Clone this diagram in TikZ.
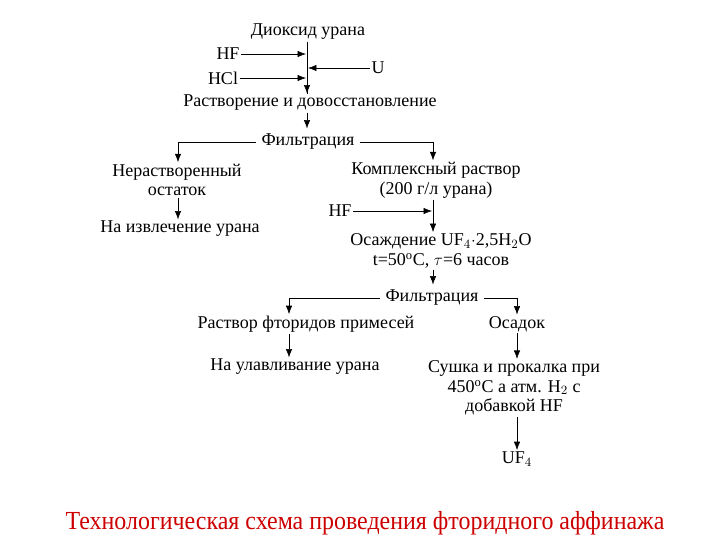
\documentclass[tikz,border=0pt]{standalone}
\usepackage{fontspec}
\setmainfont{Liberation Serif}
\usetikzlibrary{arrows.meta,calc}

\begin{document}
\begin{tikzpicture}[>={Latex[length=6pt,width=4.5pt]},x=0.025cm,y=-0.025cm,
    txt/.style={inner sep=1pt,font=\fontsize{12.8}{14}\selectfont,align=center},
    flow/.style={->,thin}]
  \useasboundingbox (0,0) rectangle (720,540);

  % first stage
  \node[txt] (dio) at (308,32) {Диоксид урана};
  \node[txt] (hf1) at (228,54) {HF};
  \node[txt] (hcl) at (223,78) {HCl};
  \node[txt] (u) at (378,68) {U};
  \node[txt] (rast) at (310,103) {Растворение и довосстановление};
  \draw[thin] (dio.south -| 307,0) -- (rast.north -| 307,0);
  \draw[flow] (hf1) -- (hf1 -| 306,0);
  \draw[flow] (hcl) -- (hcl -| 306,0);
  \draw[flow] (u) -- (u -| 308,0);
  \draw[flow] (dio.south -| 307,0) -- (rast.north -| 307,0);

  \node[txt,outer sep=3pt] (filt1) at (308,142) {Фильтрация};
  \draw[flow] (rast.south -| 307,0) -- (filt1.north -| 307,0);

  % left branch
  \node[txt] (ost) at (177,180) {Нерастворенный\\остаток};
  \node[txt] (izv) at (180,229) {На извлечение урана};
  \draw[flow] (filt1.west) -| (ost.north -| 178,0);
  \draw[flow] (ost.south -| 178,0) -- (izv.north -| 178,0);

  % right branch
  \node[txt] (kompl) at (436,180) {Комплексный раствор\\(200 г/л урана)};
  \node[txt] (hf2) at (340,211) {HF};
  \node[txt] (osazh) at (441,251) {Осаждение UF$_4$$\cdot$2,5H$_2$O\\t=50$^{\mathrm{o}}$C, $\tau$=6 часов};
  \draw[flow] (filt1.east) -| (kompl.north -| 433,0);
  \draw[flow] (kompl.south -| 433,0) -- (osazh.north -| 433,0);
  \draw[flow] (hf2) -- (hf2 -| 432,0);

  \node[txt,outer sep=3pt] (filt2) at (432,298) {Фильтрация};
  \draw[flow] (osazh.south -| 433,0) -- (filt2.north -| 433,0);

  % second filtration
  \node[txt] (prim) at (306,324) {Раствор фторидов примесей};
  \node[txt] (osad) at (517,324) {Осадок};
  \draw[flow] (filt2.west) -| (prim.north -| 289,0);
  \draw[flow] (filt2.east) -| (osad.north -| 517,0);

  \node[txt] (ulav) at (295,367) {На улавливание урана};
  \draw[flow] (prim.south -| 289,0) -- (ulav.north -| 289,0);

  \node[txt] (sush) at (514,388) {Сушка и прокалка при\\450$^{\mathrm{o}}$C а атм. H$_2$ с\\добавкой HF};
  \draw[flow] (osad.south -| 517,0) -- (sush.north -| 517,0);

  \node[txt] (uf4) at (517,459) {UF$_4$};
  \draw[flow] (sush.south -| 517,0) -- (uf4.north -| 517,0);

  \node[text=red!80!black,font=\fontsize{18.5}{20}\selectfont\addfontfeatures{FakeStretch=0.92}] (title) at (365,523)
    {Технологическая схема проведения фторидного аффинажа};
\end{tikzpicture}
\end{document}
